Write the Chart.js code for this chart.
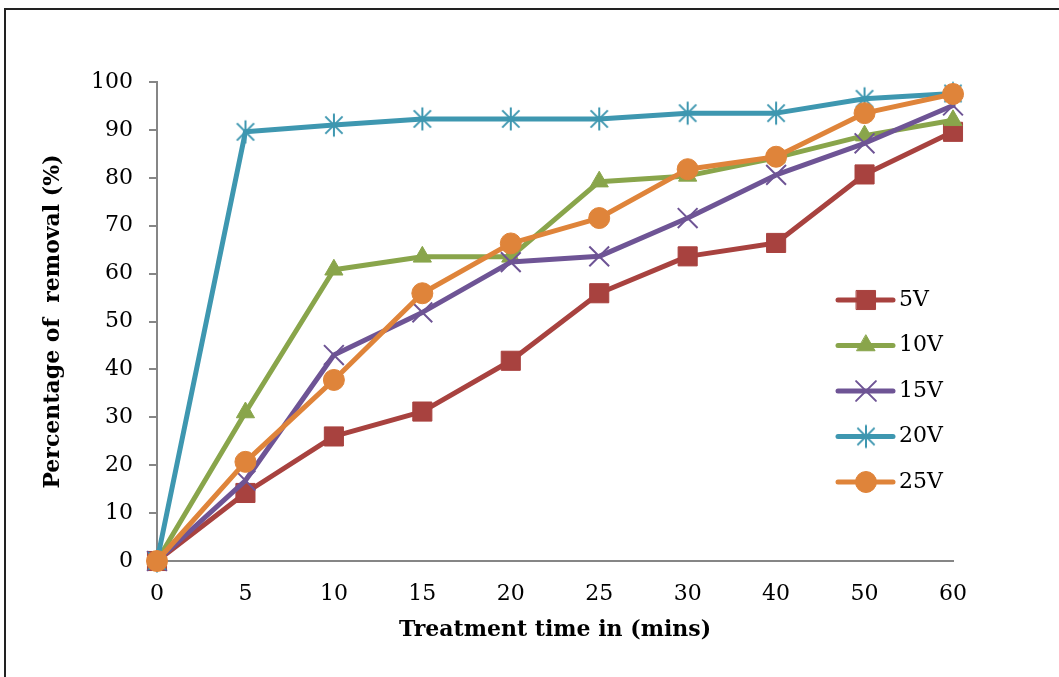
<!DOCTYPE html>
<html>
<head>
<meta charset="utf-8">
<script src="https://cdn.jsdelivr.net/npm/chart.js@4.4.1/dist/chart.umd.min.js"></script>
<style>
html,body{margin:0;padding:0;background:#fff;overflow:hidden;}
#wrap{position:relative;width:1059px;height:677px;}
#frame{position:absolute;left:4px;top:8px;width:1100px;height:700px;border-left:2px solid #222;border-top:2px solid #222;pointer-events:none;}
canvas{position:absolute;left:0;top:0;}
</style>
</head>
<body>
<div id="wrap">
  <canvas id="chart" width="1059" height="677"></canvas>
  <div id="frame"></div>
</div>
<script>
// data
const timeLabels = ['0','5','10','15','20','25','30','40','50','60'];
const seriesNames = ['5V','10V','15V','20V','25V'];
const v5V  = [0,14.2,26.0,31.2,41.8,55.9,63.6,66.4,80.7,89.6];
const v10V = [0,31.0,60.8,63.5,63.5,79.2,80.4,84.2,88.8,92.0];
const v15V = [0,16.8,43.0,51.9,62.4,63.6,71.6,80.6,87.2,95.1];
const v20V = [0,89.6,91.0,92.3,92.3,92.3,93.5,93.5,96.5,97.6];
const v25V = [0,20.7,37.8,55.9,66.3,71.6,81.8,84.4,93.5,97.5];
const yTicks = [0,10,20,30,40,50,60,70,80,90,100];

const colors = ['#A8423F','#89A54B','#6E5495','#3E97B0','#DF843A'];
const tickFont = {family:'"DejaVu Serif", serif', size:22};
const titleFont = {family:'"DejaVu Serif", serif', size:22, weight:'bold'};
const axisColor = '#868686';

// 6-arm asterisk like excel's marker
function makeAsterisk(color){
  let s=26, cv=document.createElement('canvas'); cv.width=s; cv.height=s;
  let g=cv.getContext('2d'), c=s/2, r=11.5, d=r*0.75;
  g.strokeStyle=color; g.lineWidth=2;
  g.beginPath();
  g.moveTo(c,c-r); g.lineTo(c,c+r);
  g.moveTo(c-d,c-d); g.lineTo(c+d,c+d);
  g.moveTo(c-d,c+d); g.lineTo(c+d,c-d);
  g.stroke();
  return cv;
}
const star = makeAsterisk(colors[3]);

const styles = [
  {pointStyle:'rect', radius:13.5, bw:1},
  {pointStyle:'triangle', radius:10.5, bw:1},
  {pointStyle:'crossRot', radius:14, bw:2},
  {pointStyle:star, radius:12, bw:2},
  {pointStyle:'circle', radius:10.5, bw:1}
];
const values = [v5V,v10V,v15V,v20V,v25V];

const datasets = values.map((v,i)=>({
  label: seriesNames[i],
  data: v,
  borderColor: colors[i],
  backgroundColor: colors[i],
  borderWidth: 5,
  borderJoinStyle: 'round',
  borderCapStyle: 'round',
  pointStyle: styles[i].pointStyle,
  pointRadius: styles[i].radius,
  pointBorderWidth: styles[i].bw,
  pointBackgroundColor: colors[i],
  pointBorderColor: colors[i],
  tension: 0,
  clip: false,
  order: values.length - i
}));

// legend drawn inside the plot, excel style
const insideLegend = {
  id: 'insideLegend',
  afterDraw(chart){
    const ctx = chart.ctx, a = chart.chartArea;
    const x0 = a.left + 681, y0 = a.top + 218, step = 45.5;
    ctx.save();
    datasets.forEach((ds,i)=>{
      let y = y0 + i*step;
      ctx.strokeStyle = ds.borderColor; ctx.lineWidth = 5; ctx.lineCap = 'round';
      ctx.beginPath(); ctx.moveTo(x0, y); ctx.lineTo(x0+55, y); ctx.stroke();
      ctx.fillStyle = ds.backgroundColor; ctx.strokeStyle = ds.borderColor; ctx.lineWidth = ds.pointBorderWidth;
      Chart.helpers.drawPoint(ctx, {pointStyle: ds.pointStyle, radius: ds.pointRadius, rotation: 0, borderWidth: ds.pointBorderWidth}, x0+28, y);
      ctx.fillStyle = '#000'; ctx.font = '22px "DejaVu Serif", serif';
      ctx.textBaseline = 'middle'; ctx.textAlign = 'left';
      ctx.fillText(ds.label, x0+61, y);
    });
    ctx.restore();
  }
};

new Chart(document.getElementById('chart'), {
  type: 'line',
  data: {labels: timeLabels, datasets: datasets},
  options: {
    responsive: false,
    animation: false,
    events: [],
    layout: {padding: {left:0, top:82, right:106, bottom:0}},
    plugins: {legend:{display:false}, tooltip:{enabled:false}},
    scales: {
      x: {
        offset: false,
        grid: {display:true, drawOnChartArea:false, drawTicks:false},
        border: {color:axisColor, width:2},
        ticks: {color:'#000', font:tickFont, padding:20, maxRotation:0, autoSkip:false},
        title: {display:true, text:'Treatment time in (mins)', color:'#000', font:titleFont, padding:{top:0,bottom:34}},
        afterFit(s){ s.height = 116; }
      },
      y: {
        min: 0, max: 100,
        afterBuildTicks(s){ s.ticks = yTicks.map(v=>({value:v})); },
        grid: {display:true, drawOnChartArea:false, drawTicks:true, tickLength:8, color:axisColor, lineWidth:2},
        border: {color:axisColor, width:2},
        ticks: {color:'#000', font:tickFont, padding:16},
        title: {display:true, text:'Percentage of  removal (%)', color:'#000', font:titleFont, padding:{top:40,bottom:0}},
        afterFit(s){ s.width = 157; }
      }
    }
  },
  plugins: [insideLegend]
});
</script>
</body>
</html>
